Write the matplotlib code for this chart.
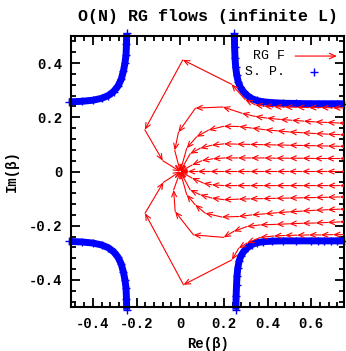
import matplotlib
matplotlib.use("Agg")
import matplotlib.pyplot as plt
from matplotlib.patches import FancyArrowPatch
from matplotlib.ticker import MultipleLocator, FuncFormatter

MONO = ["Liberation Mono", "DejaVu Sans Mono"]

# RG flow trajectories (upper half plane)
t1_x = [0.76, 0.734, 0.673, 0.619, 0.558, 0.497, 0.443, 0.382, 0.321, 0.26, 0.199, 0.138, 0.08, 0.035, 0.0]
t1_y = [0.0, 0.0, 0.0, 0.0, 0.0, 0.0, 0.0, 0.0, 0.0, 0.0, 0.0, 0.0, 0.0, 0.0, 0.0]
t2u_x = [0.76, 0.73, 0.67, 0.615, 0.56, 0.5, 0.44, 0.385, 0.325, 0.265, 0.205, 0.15, 0.1, 0.055, 0.0]
t2u_y = [0.048, 0.048, 0.048, 0.048, 0.049, 0.049, 0.049, 0.05, 0.05, 0.05, 0.05, 0.047, 0.04, 0.024, 0.0]
t3u_x = [0.76, 0.73, 0.675, 0.62, 0.56, 0.5, 0.44, 0.38, 0.32, 0.26, 0.2, 0.145, 0.092, 0.046, 0.0]
t3u_y = [0.093, 0.093, 0.094, 0.095, 0.096, 0.097, 0.098, 0.099, 0.1, 0.101, 0.102, 0.097, 0.086, 0.066, 0.0]
t4u_x = [0.76, 0.73, 0.675, 0.62, 0.56, 0.5, 0.445, 0.39, 0.33, 0.27, 0.2, 0.13, 0.075, 0.03, 0.0]
t4u_y = [0.135, 0.136, 0.138, 0.14, 0.143, 0.146, 0.15, 0.154, 0.16, 0.166, 0.167, 0.153, 0.128, 0.086, 0.0]
t5u_x = [0.76, 0.726, 0.673, 0.619, 0.566, 0.512, 0.459, 0.398, 0.344, 0.283, 0.195, 0.07, -0.008, -0.025, 0.0]
t5u_y = [0.178, 0.179, 0.181, 0.183, 0.186, 0.189, 0.192, 0.197, 0.203, 0.215, 0.238, 0.234, 0.145, 0.078, 0.0]
t6u_x = [0.76, 0.70, 0.645, 0.59, 0.535, 0.48, 0.43, 0.385, 0.344, 0.298, 0.235, 0.012, -0.162, -0.08, 0.0]
t6u_y = [0.235, 0.235, 0.236, 0.236, 0.237, 0.238, 0.239, 0.241, 0.246, 0.265, 0.322, 0.412, 0.154, 0.04, 0.0]

# RG flow trajectories (lower half plane)
t2l_x = [0.76, 0.73, 0.675, 0.62, 0.56, 0.5, 0.44, 0.38, 0.32, 0.26, 0.2, 0.145, 0.107, 0.054, 0.0]
t2l_y = [-0.052, -0.052, -0.052, -0.052, -0.052, -0.052, -0.052, -0.052, -0.052, -0.052, -0.052, -0.049, -0.043, -0.024, 0.0]
t3l_x = [0.76, 0.73, 0.675, 0.62, 0.56, 0.5, 0.44, 0.38, 0.32, 0.268, 0.199, 0.145, 0.092, 0.046, 0.0]
t3l_y = [-0.094, -0.094, -0.095, -0.096, -0.097, -0.098, -0.099, -0.1, -0.101, -0.102, -0.104, -0.098, -0.086, -0.068, 0.0]
t4l_x = [0.76, 0.73, 0.675, 0.62, 0.56, 0.5, 0.445, 0.39, 0.329, 0.268, 0.191, 0.115, 0.069, 0.03, 0.0]
t4l_y = [-0.139, -0.139, -0.141, -0.143, -0.146, -0.149, -0.152, -0.156, -0.16, -0.166, -0.168, -0.154, -0.123, -0.086, 0.0]
t5l_x = [0.76, 0.73, 0.675, 0.62, 0.56, 0.5, 0.44, 0.367, 0.306, 0.245, 0.199, 0.061, -0.023, -0.03, 0.0]
t5l_y = [-0.185, -0.186, -0.188, -0.19, -0.191, -0.193, -0.195, -0.197, -0.203, -0.221, -0.243, -0.234, -0.148, -0.068, 0.0]
t6l_x = [0.76, 0.70, 0.645, 0.59, 0.535, 0.48, 0.43, 0.367, 0.306, 0.268, 0.237, 0.015, -0.161, -0.077, 0.0]
t6l_y = [-0.233, -0.233, -0.234, -0.234, -0.235, -0.236, -0.238, -0.243, -0.264, -0.283, -0.326, -0.418, -0.154, -0.04, 0.0]

# singular points (S. P.), four branches
sp_tr_x = [0.248, 0.249, 0.251, 0.254, 0.259, 0.266, 0.276, 0.29, 0.306, 0.325, 0.35, 0.38, 0.42, 0.47, 0.53, 0.6, 0.63, 0.66, 0.69, 0.72, 0.75]
sp_tr_y = [0.51, 0.46, 0.42, 0.385, 0.355, 0.33, 0.31, 0.294, 0.281, 0.27, 0.262, 0.257, 0.254, 0.252, 0.251, 0.25, 0.25, 0.25, 0.25, 0.25, 0.25]
sp_br_x = [0.255, 0.256, 0.258, 0.26, 0.264, 0.27, 0.279, 0.292, 0.308, 0.327, 0.35, 0.38, 0.42, 0.47, 0.53, 0.6, 0.63, 0.66, 0.69, 0.72, 0.75]
sp_br_y = [-0.51, -0.46, -0.42, -0.385, -0.355, -0.33, -0.31, -0.294, -0.281, -0.27, -0.263, -0.259, -0.257, -0.256, -0.256, -0.256, -0.256, -0.256, -0.256, -0.256, -0.256]
sp_tl_x = [-0.51, -0.45, -0.40, -0.36, -0.33, -0.305, -0.285, -0.27, -0.26, -0.253, -0.248, -0.246, -0.245]
sp_tl_y = [0.257, 0.259, 0.263, 0.27, 0.28, 0.295, 0.315, 0.34, 0.37, 0.40, 0.43, 0.47, 0.51]
sp_bl_x = [-0.51, -0.45, -0.40, -0.36, -0.33, -0.305, -0.285, -0.27, -0.26, -0.253, -0.248, -0.246, -0.245]
sp_bl_y = [-0.258, -0.26, -0.264, -0.271, -0.281, -0.296, -0.316, -0.341, -0.371, -0.40, -0.43, -0.47, -0.51]

flows = [(t1_x, t1_y), (t2u_x, t2u_y), (t3u_x, t3u_y), (t4u_x, t4u_y), (t5u_x, t5u_y), (t6u_x, t6u_y),
         (t2l_x, t2l_y), (t3l_x, t3l_y), (t4l_x, t4l_y), (t5l_x, t5l_y), (t6l_x, t6l_y)]
branches = [(sp_tr_x, sp_tr_y), (sp_br_x, sp_br_y), (sp_tl_x, sp_tl_y), (sp_bl_x, sp_bl_y)]

HEAD = "->,head_length=0.5,head_width=0.22"

fig = plt.figure(figsize=(3.46, 3.51), dpi=100)
ax = fig.add_axes([71 / 346, 1 - 307 / 351, 273 / 346, 271 / 351])

for bx, by in branches:
    ax.plot(bx, by, color="#0000ff", lw=5, solid_capstyle="butt", clip_on=False, zorder=2)
    ax.plot(bx, by, color="#0000ff", lw=0, marker="+", ms=5.5, mew=1, clip_on=False, zorder=2)

for fx, fy in flows:
    for i in range(len(fx) - 1):
        ax.add_patch(FancyArrowPatch((fx[i], fy[i]), (fx[i + 1], fy[i + 1]),
                                     arrowstyle=HEAD, mutation_scale=8, color="#ff0000", lw=0.8,
                                     shrinkA=0, shrinkB=0, zorder=3))

ax.set_xlim(-0.5, 0.75)
ax.set_ylim(-0.5, 0.5)
ax.xaxis.set_major_locator(MultipleLocator(0.2))
ax.xaxis.set_minor_locator(MultipleLocator(0.04))
ax.yaxis.set_major_locator(MultipleLocator(0.2))
ax.yaxis.set_minor_locator(MultipleLocator(0.04))
fmt = FuncFormatter(lambda v, _: "0" if abs(v) < 1e-9 else f"{v:.1f}")
ax.xaxis.set_major_formatter(fmt)
ax.yaxis.set_major_formatter(fmt)
ax.tick_params(which="both", direction="in", top=True, right=True, width=1.3)
ax.tick_params(which="major", length=6.5)
ax.tick_params(which="minor", length=3.5)
ax.tick_params(axis="x", pad=7)
ax.tick_params(axis="y", pad=6)
for lab in ax.get_xticklabels() + ax.get_yticklabels():
    lab.set_family(MONO)
    lab.set_fontweight("bold")
    lab.set_fontsize(10)
for s in ax.spines.values():
    s.set_linewidth(1.5)

ax.set_title("O(N) RG flows (infinite L)", family=MONO, fontweight="bold", fontsize=12, pad=11)
ax.set_xlabel("Re(β)", family=MONO, fontweight="bold", fontsize=10)
ax.set_ylabel("Im(β)", family=MONO, fontweight="bold", fontsize=10)
ax.xaxis.set_label_coords(0.502, -0.11)
ax.yaxis.set_label_coords(-0.19, 0.5)

# legend drawn by hand, gnuplot style
ax.text(0.785, 0.925, "RG F", transform=ax.transAxes, ha="right", va="center", family=MONO, fontsize=9.5)
ax.text(0.785, 0.869, "S. P.", transform=ax.transAxes, ha="right", va="center", family=MONO, fontsize=9.5)
ax.add_patch(FancyArrowPatch((0.821, 0.926), (0.974, 0.926), transform=ax.transAxes,
                             arrowstyle=HEAD, mutation_scale=9, color="#ff0000", lw=0.8,
                             shrinkA=0, shrinkB=0))
ax.plot([0.89], [0.869], transform=ax.transAxes, marker="+", ms=6, mew=1, color="#0000ff")

fig.savefig("out.png", dpi=100)
